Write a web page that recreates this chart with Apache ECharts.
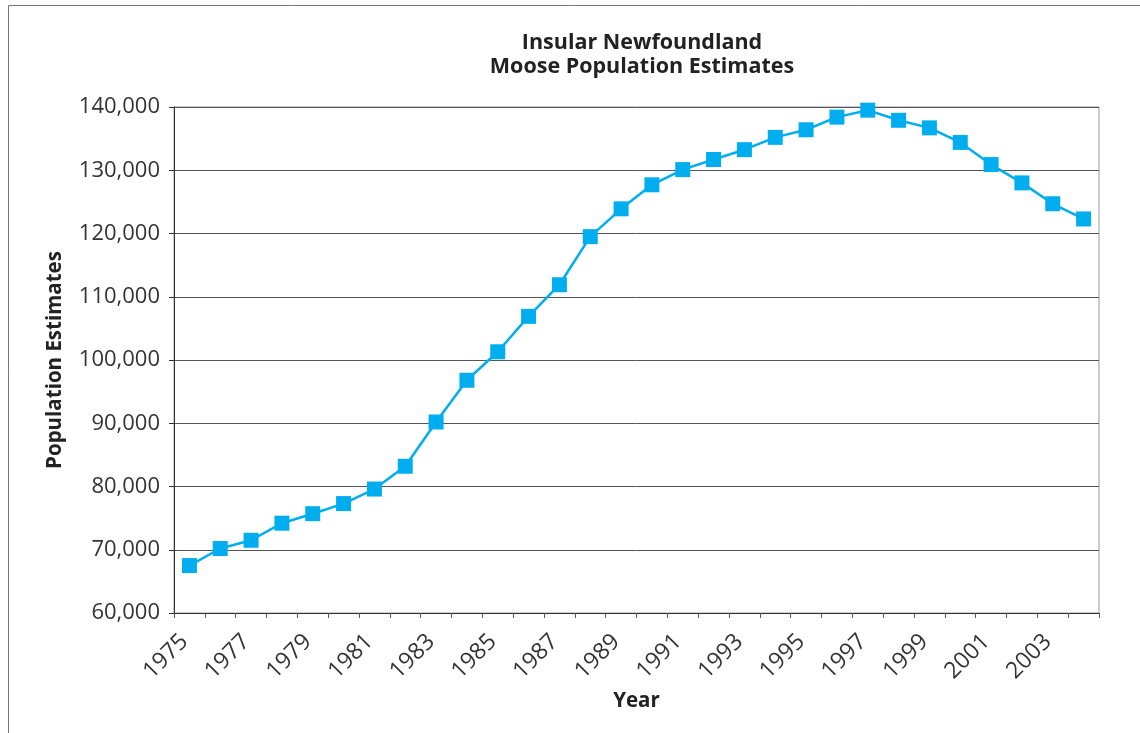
<!DOCTYPE html>
<html>
<head>
<meta charset="utf-8">
<title>Insular Newfoundland Moose Population Estimates</title>
<script src="https://cdn.jsdelivr.net/npm/echarts@6/dist/echarts.min.js"></script>
<style>
  html, body { margin: 0; padding: 0; background: #fff; }
  #chart { width: 1140px; height: 733px; }
</style>
</head>
<body>
<div id="chart"></div>
<script>
// years on the x axis
const years = [
  '1975', '1976', '1977', '1978', '1979', '1980', '1981', '1982', '1983', '1984',
  '1985', '1986', '1987', '1988', '1989', '1990', '1991', '1992', '1993', '1994',
  '1995', '1996', '1997', '1998', '1999', '2000', '2001', '2002', '2003', '2004'
]
// population estimates
const population = [
  67500, 70200, 71500, 74200, 75700, 77300, 79600, 83200, 90200, 96800,
  101300, 106900, 111900, 119500, 123900, 127700, 130100, 131700, 133250, 135200,
  136400, 138400, 139500, 137900, 136700, 134400, 130900, 128000, 124700, 122300
]
const yMin = 60000
const yMax = 140000
const yStep = 10000

const font = '"Open Sans", "Noto Sans", sans-serif'
const chart = echarts.init(document.getElementById('chart'))

chart.setOption({
  backgroundColor: '#fff',
  animation: false,
  textStyle: { fontFamily: font },
  title: {
    text: 'Insular Newfoundland\nMoose Population Estimates',
    left: 637,
    top: 26,
    textAlign: 'center',
    textStyle: {
      fontFamily: font,
      fontSize: 21.5,
      fontWeight: 'bold',
      color: '#222',
      lineHeight: 24
    }
  },
  graphic: [
    {
      // outer frame of the figure (top and left edges visible)
      type: 'rect',
      shape: { x: 8.5, y: 5.5, width: 1200, height: 800 },
      style: { fill: 'none', stroke: '#777', lineWidth: 1 },
      silent: true
    }
  ],
  grid: {
    left: 174,
    right: 41,
    top: 107,
    bottom: 120,
    show: true,
    borderColor: '#999',
    borderWidth: 1
  },
  xAxis: {
    type: 'category',
    data: years,
    boundaryGap: true,
    name: 'Year',
    nameLocation: 'middle',
    nameGap: 77,
    nameTextStyle: { fontFamily: font, fontSize: 20.5, fontWeight: 'bold', color: '#222' },
    axisLine: { lineStyle: { color: '#333', width: 1 } },
    axisTick: { show: true, interval: 0, length: 5, lineStyle: { color: '#555' } },
    axisLabel: {
      interval: 1,
      rotate: 45,
      margin: 20,
      padding: [0, 7, 0, 0],
      fontFamily: font,
      fontSize: 23,
      color: '#333'
    },
    splitLine: { show: false }
  },
  yAxis: {
    type: 'value',
    min: yMin,
    max: yMax,
    interval: yStep,
    name: 'Population Estimates',
    nameLocation: 'middle',
    nameGap: 108,
    nameTextStyle: { fontFamily: font, fontSize: 20.5, fontWeight: 'bold', color: '#222' },
    axisLine: { show: true, lineStyle: { color: '#333', width: 1 } },
    axisTick: { show: true, length: 5, lineStyle: { color: '#333' } },
    axisLabel: {
      margin: 14,
      fontFamily: font,
      fontSize: 22,
      color: '#333',
      formatter: v => v.toLocaleString('en-US')
    },
    splitLine: { show: true, lineStyle: { color: '#555', width: 1 } }
  },
  series: [
    {
      type: 'line',
      data: population,
      symbol: 'rect',
      symbolSize: 15,
      lineStyle: { color: '#00AEEF', width: 2.5 },
      itemStyle: { color: '#00AEEF' }
    }
  ]
})
</script>
</body>
</html>
